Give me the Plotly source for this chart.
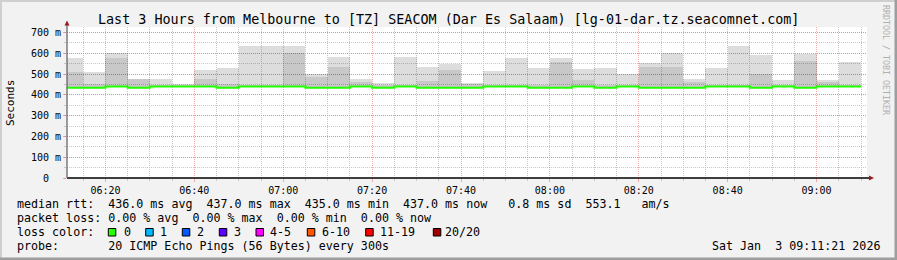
import plotly.graph_objects as go
import pandas as pd

# ---------------- data (milliseconds) ----------------
interval_start = pd.date_range("2026-01-03 06:10", periods=36, freq="5min")
median_ms = [434, 434, 440, 434, 440, 440, 440, 434, 440, 440, 440, 434,
             434, 440, 434, 440, 434, 434, 434, 440, 440, 434, 434, 440,
             434, 440, 434, 434, 434, 440, 440, 434, 440, 434, 440, 440]
dark_top_ms = [511, 453, 575, 477, 445, 445, 474, 450, 445, 445, 602, 484,
               535, 463, 445, 445, 468, 521, 452, 445, 445, 445, 559, 472,
               445, 445, 535, 535, 460, 445, 445, 501, 445, 564, 461, 445]
light_top_ms = [578, 511, 599, 477, 477, 452, 521, 530, 636, 636, 636, 501,
                583, 477, 455, 583, 535, 550, 458, 516, 578, 530, 578, 525,
                530, 501, 552, 599, 477, 530, 633, 589, 472, 594, 471, 559]
y_tick_vals = [0, 100, 200, 300, 400, 500, 600, 700]
y_tick_text = ["0\u00a0\u00a0", "100 m", "200 m", "300 m", "400 m", "500 m", "600 m", "700 m"]
loss_labels = ["0", "1", "2", "3", "4-5", "6-10", "11-19", "20/20"]
loss_colors = ["#26ff00", "#00b8ff", "#0059ff", "#5e00ff", "#ff00ff", "#ff5500", "#ff0000", "#a10000"]

title = "Last 3 Hours from Melbourne to [TZ] SEACOM (Dar Es Salaam) [lg-01-dar.tz.seacomnet.com]"
row1 = "median rtt:  436.0 ms avg  437.0 ms max  435.0 ms min  437.0 ms now   0.8 ms sd  553.1   am/s"
row2 = "packet loss: 0.00 % avg  0.00 % max  0.00 % min  0.00 % now"
row3 = "loss color:"
row4 = "probe:       20 ICMP Echo Pings (56 Bytes) every 300s"
stamp = "Sat Jan  3 09:11:21 2026"

# ---------------- layout geometry ----------------
W, H = 897, 260
L, R, T, B = 67, 30, 27, 82
PW, PH = W - L - R, H - T - B
MONO = "DejaVu Sans Mono"


def ax(x):
    return (x - L) / PW


def ay(y):
    return (T + PH - y) / PH


def nb(s):
    return s.replace(" ", "\u00a0")


step_ms = 5 * 60 * 1000
fig = go.Figure()
fig.add_trace(go.Bar(
    x=interval_start, base=median_ms,
    y=[t - m for t, m in zip(light_top_ms, median_ms)],
    width=step_ms, offset=0,
    marker=dict(color="rgba(0,0,0,0.133)", line=dict(width=0)),
    hoverinfo="skip"))
fig.add_trace(go.Bar(
    x=interval_start, base=median_ms,
    y=[t - m for t, m in zip(dark_top_ms, median_ms)],
    width=step_ms, offset=0,
    marker=dict(color="rgba(0,0,0,0.095)", line=dict(width=0)),
    hoverinfo="skip"))
line_x = list(interval_start) + [interval_start[-1] + pd.Timedelta(minutes=5)]
line_y = median_ms + [median_ms[-1]]
fig.add_trace(go.Scatter(x=line_x, y=line_y, mode="lines",
                         line=dict(color="#22ff00", width=2, shape="hv"),
                         hoverinfo="skip"))

major_grid = "rgba(235,90,90,0.5)"
minor_grid = "#c8c8c8"

fig.update_layout(
    width=W, height=H,
    margin=dict(l=L, r=R, t=T, b=B, pad=0),
    paper_bgcolor="#f2f2f2", plot_bgcolor="white",
    barmode="overlay", bargap=0, showlegend=False,
    font=dict(family=MONO, size=10, color="black"),
    xaxis=dict(
        type="date",
        range=["2026-01-03 06:11:21", "2026-01-03 09:11:21"],
        dtick=20 * 60 * 1000, tickformat="%H:%M",
        showgrid=True, gridcolor=major_grid, griddash="1px,1px", gridwidth=1,
        ticks="outside", ticklen=3, tickcolor=major_grid,
        minor=dict(dtick=step_ms, showgrid=True, gridcolor=minor_grid,
                   griddash="1px,1px", ticks="outside", ticklen=2, tickcolor=minor_grid),
        showline=False, zeroline=False, fixedrange=True,
        tickfont=dict(family=MONO, size=10),
    ),
    yaxis=dict(
        range=[0, 726],
        tickvals=y_tick_vals, ticktext=y_tick_text,
        showgrid=True, gridcolor=major_grid, griddash="1px,1px", gridwidth=1,
        ticks="outside", ticklen=3, tickcolor=major_grid,
        minor=dict(dtick=50, showgrid=True, gridcolor=minor_grid,
                   griddash="1px,1px", ticks="outside", ticklen=2, tickcolor=minor_grid),
        showline=False, zeroline=False, fixedrange=True,
        tickfont=dict(family=MONO, size=10),
    ),
)

shapes = []
# axes lines and arrows
shapes.append(dict(type="line", xref="paper", yref="paper", x0=ax(67), x1=ax(870), y0=ay(178), y1=ay(178),
                   line=dict(color="black", width=1.5)))
shapes.append(dict(type="line", xref="paper", yref="paper", x0=ax(67), x1=ax(67), y0=ay(178), y1=ay(24),
                   line=dict(color="#666666", width=1.3)))
shapes.append(dict(type="path", xref="paper", yref="paper",
                   path=f"M {ax(64.5)},{ay(25.5)} L {ax(69.5)},{ay(25.5)} L {ax(67)},{ay(20.5)} Z",
                   fillcolor="#9b1c1c", line=dict(width=0)))
shapes.append(dict(type="path", xref="paper", yref="paper",
                   path=f"M {ax(869)},{ay(175.5)} L {ax(869)},{ay(180.5)} L {ax(874)},{ay(178)} Z",
                   fillcolor="#9b1c1c", line=dict(width=0)))
# frame
shapes.append(dict(type="rect", xref="paper", yref="paper", x0=ax(0), x1=ax(W), y0=ay(0), y1=ay(2),
                   fillcolor="#cfcfcf", line=dict(width=0), layer="below"))
shapes.append(dict(type="rect", xref="paper", yref="paper", x0=ax(0), x1=ax(2), y0=ay(0), y1=ay(H),
                   fillcolor="#cfcfcf", line=dict(width=0), layer="below"))
shapes.append(dict(type="rect", xref="paper", yref="paper", x0=ax(0), x1=ax(W), y0=ay(H - 2.5), y1=ay(H),
                   fillcolor="#9e9e9e", line=dict(width=0)))
shapes.append(dict(type="rect", xref="paper", yref="paper", x0=ax(W - 2.5), x1=ax(W), y0=ay(0), y1=ay(H),
                   fillcolor="#9e9e9e", line=dict(width=0)))

annotations = []


def txt(s, x, y, size, xanchor="left", color="black", angle=0):
    annotations.append(dict(text=nb(s), x=ax(x), y=ay(y), xref="paper", yref="paper",
                            xanchor=xanchor, yanchor="middle", showarrow=False,
                            textangle=angle, borderpad=0,
                            font=dict(family=MONO, size=size, color=color)))


txt(title, 448.5, 19.5, 13.4, xanchor="center")
txt("Seconds", 10, 103, 11, xanchor="center", angle=-90)
txt("RRDTOOL / TOBI OETIKER", 886, 60, 8.3, xanchor="center", color="#b0b0b0", angle=90)
txt(row1, 15.5, 204, 11.66)
txt(row2, 15.5, 218, 11.66)
txt(row3, 15.5, 232, 11.66)
txt(row4, 15.5, 246, 11.66)
txt(stamp, 881, 246, 11.66, xanchor="right")

sq_x = [108.3, 145.7, 182.3, 219.3, 256, 307.3, 365.7, 433.3]
tx_x = [122.5, 159.3, 196, 232.6, 269.3, 321, 379.3, 444.3]
for lab, col, sx, tx in zip(loss_labels, loss_colors, sq_x, tx_x):
    shapes.append(dict(type="rect", xref="paper", yref="paper",
                       x0=ax(sx), x1=ax(sx + 7.5), y0=ay(236), y1=ay(228.5),
                       fillcolor=col, line=dict(color="black", width=1)))
    txt(lab, tx, 232, 11.66)

fig.update_layout(shapes=shapes, annotations=annotations)
fig.write_html("out.html")
